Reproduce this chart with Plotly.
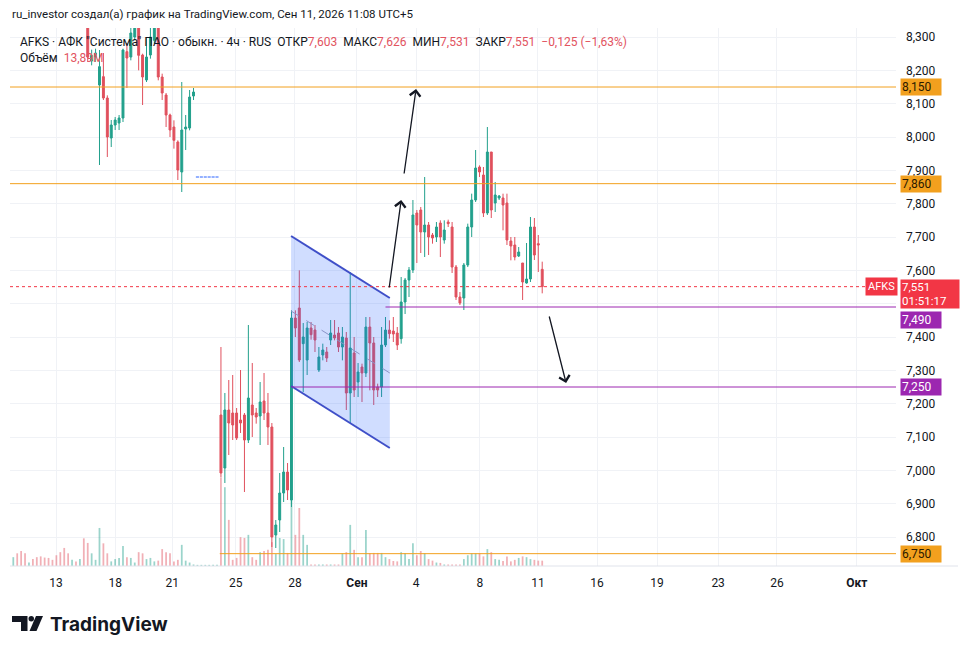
import plotly.graph_objects as go

# ---------------- data (4h bars, price in RUB) ----------------
bar_index = list(range(136))

opens = [
    8.700, 8.730, 8.705, 8.680, 8.660, 8.668, 8.650, 8.628, 8.610, 8.595,
    8.585, 8.565, 8.545, 8.510, 8.490, 8.480, 8.490, 8.478, 8.500, 8.380,
    8.228, 8.240, 8.156, 8.181, 8.117, 7.997, 8.036, 8.042, 8.057, 8.256,
    8.240, 8.300, 8.350, 8.246, 8.171, 8.246, 8.290, 8.340, 8.180, 8.126,
    8.066, 8.030, 7.985, 7.895, 8.024, 8.027, 8.123,
    None, None, None, None, None, None,
    7.166, 7.007, 7.181, 7.172, 7.172, 7.151, 7.166, 7.091, 7.196, 7.172,
    7.163, 7.208, 7.172, 7.130, 6.806, 6.851, 6.932, 6.995, 6.911, 7.457,
    7.487, 7.380, 7.331, 7.427, 7.421, 7.301, 7.346, 7.355, 7.391, 7.406,
    7.412, 7.370, 7.397, 7.232, 7.352, 7.265, 7.310, 7.292, 7.430, 7.382,
    7.250, 7.250, 7.376, 7.421, 7.418, 7.412, 7.395, 7.505, 7.571, 7.601,
    7.772, 7.781, 7.715, 7.736, 7.706, 7.700, 7.742, 7.691, 7.745, 7.730,
    7.610, 7.520, 7.517, 7.616, 7.730, 7.811, 7.910, 7.886, 7.772, 7.955,
    7.802, 7.817, 7.817, 7.802, 7.688, 7.676, 7.643, 7.622, 7.562, 7.574,
    7.730, 7.680, 7.603,
]
highs = [
    8.760, 8.745, 8.715, 8.690, 8.675, 8.672, 8.655, 8.632, 8.615, 8.600,
    8.590, 8.570, 8.550, 8.515, 8.495, 8.498, 8.494, 8.510, 8.505, 8.410,
    8.262, 8.265, 8.261, 8.252, 8.125, 8.051, 8.060, 8.066, 8.265, 8.282,
    8.330, 8.380, 8.380, 8.250, 8.300, 8.330, 8.400, 8.360, 8.190, 8.132,
    8.070, 8.050, 7.990, 8.165, 8.066, 8.141, 8.147,
    None, None, None, None, None, None,
    7.370, 7.232, 7.271, 7.286, 7.187, 7.301, 7.172, 7.436, 7.322, 7.187,
    7.265, 7.292, 7.232, 7.142, 6.851, 6.992, 7.070, 7.022, 7.480, 7.480,
    7.600, 7.442, 7.445, 7.445, 7.436, 7.370, 7.380, 7.370, 7.451, 7.451,
    7.430, 7.430, 7.415, 7.595, 7.400, 7.322, 7.320, 7.460, 7.460, 7.400,
    7.260, 7.430, 7.460, 7.450, 7.460, 7.430, 7.580, 7.577, 7.610, 7.811,
    7.781, 7.790, 7.880, 7.745, 7.712, 7.745, 7.750, 7.750, 7.752, 7.745,
    7.616, 7.535, 7.622, 7.740, 7.830, 7.961, 7.915, 7.910, 8.030, 7.955,
    7.865, 7.826, 7.830, 7.830, 7.700, 7.700, 7.670, 7.622, 7.682, 7.760,
    7.757, 7.706, 7.626,
]
lows = [
    8.690, 8.695, 8.670, 8.650, 8.655, 8.640, 8.620, 8.600, 8.585, 8.575,
    8.555, 8.530, 8.500, 8.480, 8.470, 8.475, 8.470, 8.470, 8.400, 8.225,
    8.215, 8.225, 7.916, 8.111, 7.940, 7.970, 8.021, 8.021, 8.045, 8.147,
    8.230, 8.290, 8.200, 8.096, 8.165, 8.235, 8.280, 8.170, 8.111, 8.030,
    8.000, 7.965, 7.871, 7.835, 7.961, 8.020, 8.111,
    None, None, None, None, None, None,
    6.980, 6.962, 7.046, 7.091, 7.091, 7.112, 6.935, 7.082, 7.100, 7.140,
    7.076, 7.151, 7.076, 6.770, 6.767, 6.815, 6.905, 6.911, 6.890, 7.400,
    7.325, 7.235, 7.286, 7.392, 7.355, 7.295, 7.330, 7.325, 7.376, 7.390,
    7.355, 7.330, 7.181, 7.142, 7.220, 7.220, 7.205, 7.280, 7.240, 7.196,
    7.220, 7.220, 7.370, 7.395, 7.385, 7.361, 7.380, 7.469, 7.520, 7.592,
    7.622, 7.652, 7.640, 7.646, 7.680, 7.685, 7.640, 7.680, 7.730, 7.592,
    7.511, 7.496, 7.481, 7.610, 7.700, 7.805, 7.880, 7.760, 7.766, 7.757,
    7.775, 7.811, 7.720, 7.676, 7.630, 7.630, 7.640, 7.511, 7.560, 7.565,
    7.631, 7.595, 7.531,
]
closes = [
    8.730, 8.705, 8.680, 8.660, 8.668, 8.650, 8.628, 8.610, 8.595, 8.585,
    8.565, 8.545, 8.510, 8.490, 8.480, 8.490, 8.478, 8.500, 8.420, 8.240,
    8.245, 8.252, 8.211, 8.117, 8.000, 8.036, 8.051, 8.057, 8.261, 8.237,
    8.312, 8.345, 8.245, 8.180, 8.240, 8.300, 8.360, 8.180, 8.132, 8.066,
    8.021, 7.990, 7.901, 8.021, 8.030, 8.120, 8.135,
    None, None, None, None, None, None,
    6.992, 7.181, 7.142, 7.136, 7.097, 7.142, 7.091, 7.217, 7.166, 7.160,
    7.205, 7.172, 7.130, 6.800, 6.836, 6.932, 6.995, 6.941, 7.457, 7.427,
    7.331, 7.400, 7.427, 7.407, 7.391, 7.340, 7.361, 7.337, 7.412, 7.397,
    7.370, 7.400, 7.232, 7.367, 7.241, 7.295, 7.292, 7.430, 7.382, 7.241,
    7.241, 7.376, 7.421, 7.410, 7.409, 7.376, 7.505, 7.571, 7.601, 7.766,
    7.736, 7.715, 7.736, 7.700, 7.697, 7.730, 7.700, 7.721, 7.740, 7.610,
    7.520, 7.502, 7.616, 7.730, 7.811, 7.907, 7.895, 7.772, 7.955, 7.781,
    7.826, 7.823, 7.796, 7.691, 7.673, 7.640, 7.655, 7.565, 7.574, 7.730,
    7.646, 7.676, 7.551,
]
volumes_m = [
    23, 33, 39, 33, 9, 18, 23, 25, 22, 21,
    16, 28, 36, 47, 33, 16, 12, 18, 72, 60,
    33, 16, 99, 59, 33, 12, 18, 21, 52, 23,
    21, 9, 36, 33, 18, 21, 12, 14, 44, 36,
    33, 12, 16, 55, 14, 9, 4,
    3, 3, 3, 3, 3, 3,
    231, 205, 120, 16, 21, 75, 73, 81, 23, 16,
    36, 39, 42, 62, 31, 73, 70, 34, 172, 81,
    151, 81, 55, 4, 4, 4, 4, 4, 4, 4,
    4, 33, 36, 107, 42, 23, 23, 94, 33, 34,
    34, 34, 23, 18, 13, 12, 36, 33, 18, 59,
    28, 39, 33, 18, 14, 9, 8, 4, 4, 4,
    4, 4, 18, 28, 33, 33, 33, 25, 44, 36,
    18, 16, 13, 25, 12, 16, 21, 25, 23, 18,
    16, 14, 13.89,
]

# flat no-trade bars (drawn as dashes)
doji_index = [47, 48, 49, 50, 51, 52]
doji_price = [7.880, 7.880, 7.880, 7.880, 7.880, 7.880]

# axis ticks
date_tick_pos = [10.9, 26.0, 40.6, 56.8, 71.9, 87.7, 102.8, 119.1, 133.9, 149.0, 164.3, 179.9, 194.9, 215.3]
date_tick_text = ["13", "18", "21", "25", "28", "<b>Сен</b>", "4", "8", "11", "16", "19", "23", "26", "<b>Окт</b>"]
price_ticks = [6.8, 6.9, 7.0, 7.1, 7.2, 7.3, 7.4, 7.5, 7.6, 7.7, 7.8, 7.9, 8.0, 8.1, 8.2, 8.3]
hidden_price_ticks = [7.5]  # covered by the last-price label in the original

# drawings
orange_levels = [8.150, 7.860, 6.750]
orange_starts = [-0.84, -0.84, 52.7]
purple_levels = [7.490, 7.250]
purple_starts = [95.0, 71.0]
flag_x = [70.9, 96.1]
flag_top = [7.703, 7.517]
flag_mid = [7.478, 7.292]
flag_bottom = [7.253, 7.067]
arrows = [  # (tail_x, tail_y, head_x, head_y)
    (95.9, 7.544, 99.0, 7.811),
    (99.7, 7.886, 102.8, 8.144),
    (136.7, 7.466, 141.1, 7.262),
]

X_RANGE = [-0.84, 225.3]
Y_RANGE = [6.713, 8.327]
VOL_RANGE = [0, 1400]

UP = "#22a08c"
DOWN = "#e0505d"
UP_VOL = "rgba(34,160,140,0.45)"
DOWN_VOL = "rgba(224,80,93,0.45)"
TXT = "#131722"
ORANGE = "#f2a01e"
PURPLE = "#9c27b0"
RED = "#f23645"
FONT = "Roboto"


def fmt(v, nd=3):
    return f"{v:.{nd}f}".replace(".", ",")


# paper helpers (plot area: x 10..896, y 28..566 px)
def pxx(x):
    return (x - 10) / 886


def pxy(y):
    return (566 - y) / 538


vol_colors = []
for o, c in zip(opens, closes):
    if o is None or c >= o:
        vol_colors.append(UP_VOL)
    else:
        vol_colors.append(DOWN_VOL)

fig = go.Figure()

fig.add_trace(go.Bar(
    x=bar_index, y=volumes_m, marker=dict(color=vol_colors, line=dict(width=0)),
    width=0.45, yaxis="y", showlegend=False, hoverinfo="skip",
))

fig.add_trace(go.Candlestick(
    x=bar_index, open=opens, high=highs, low=lows, close=closes,
    increasing=dict(line=dict(color=UP, width=1), fillcolor=UP),
    decreasing=dict(line=dict(color=DOWN, width=1), fillcolor=DOWN),
    whiskerwidth=0, yaxis="y2", showlegend=False, hoverinfo="skip",
))

fig.add_trace(go.Scatter(
    x=doji_index, y=doji_price, mode="markers", yaxis="y2",
    marker=dict(symbol="line-ew", size=2.2, line=dict(color="#2962ff", width=1)),
    showlegend=False, hoverinfo="skip",
))

# flag pattern
fig.add_trace(go.Scatter(
    x=[flag_x[0], flag_x[1], flag_x[1], flag_x[0], flag_x[0]],
    y=[flag_top[0], flag_top[1], flag_bottom[1], flag_bottom[0], flag_top[0]],
    fill="toself", fillcolor="rgba(41,98,255,0.22)", mode="lines",
    line=dict(width=0), yaxis="y2", showlegend=False, hoverinfo="skip",
))
for ys in (flag_top, flag_bottom):
    fig.add_trace(go.Scatter(
        x=flag_x, y=ys, mode="lines", line=dict(color="#3f4fc8", width=2),
        yaxis="y2", showlegend=False, hoverinfo="skip",
    ))
fig.add_trace(go.Scatter(
    x=flag_x, y=flag_mid, mode="lines", line=dict(color="#8a93c8", width=1, dash="dash"),
    yaxis="y2", showlegend=False, hoverinfo="skip",
))

shapes = []
for lv, st in zip(orange_levels, orange_starts):
    shapes.append(dict(type="line", xref="x", yref="y2", x0=st, x1=X_RANGE[1], y0=lv, y1=lv,
                       line=dict(color=ORANGE, width=1)))
for lv, st in zip(purple_levels, purple_starts):
    shapes.append(dict(type="line", xref="x", yref="y2", x0=st, x1=X_RANGE[1], y0=lv, y1=lv,
                       line=dict(color=PURPLE, width=1)))
last_close = closes[-1]
shapes.append(dict(type="line", xref="paper", yref="y2", x0=0, x1=pxx(866), y0=last_close, y1=last_close,
                   line=dict(color=RED, width=1, dash="dot")))
# bottom axis line
shapes.append(dict(type="line", xref="paper", yref="paper", x0=0, x1=pxx(958), y0=0, y1=0,
                   line=dict(color="#e0e3eb", width=1)))
# TradingView logo mark
shapes.append(dict(type="path", xref="paper", yref="paper",
                   path=f"M {pxx(12)},{pxy(616)} L {pxx(27.5)},{pxy(616)} L {pxx(27.5)},{pxy(631)} "
                        f"L {pxx(21)},{pxy(631)} L {pxx(21)},{pxy(622)} L {pxx(12)},{pxy(622)} Z",
                   fillcolor="#131722", line=dict(width=0)))
shapes.append(dict(type="circle", xref="paper", yref="paper",
                   x0=pxx(28.5), x1=pxx(34), y0=pxy(621.5), y1=pxy(616),
                   fillcolor="#131722", line=dict(width=0)))
shapes.append(dict(type="path", xref="paper", yref="paper",
                   path=f"M {pxx(36)},{pxy(616)} L {pxx(43)},{pxy(616)} L {pxx(36.5)},{pxy(631)} "
                        f"L {pxx(29.5)},{pxy(631)} Z",
                   fillcolor="#131722", line=dict(width=0)))

ann = []
ann.append(dict(xref="paper", yref="paper", x=pxx(10), y=pxy(14), xanchor="left", yanchor="middle",
                text="ru_investor создал(а) график на TradingView.com, Сен 11, 2026 11:08 UTC+5",
                showarrow=False, font=dict(size=11.5, color=TXT, family=FONT)))

vc = "#e2545f"
prev_close = closes[-2]
chg = last_close - prev_close
line2 = ("AFKS · АФК \"Система\" ПАО · обыкн. · 4ч · RUS\u2002"
         f"ОТКР<span style='color:{vc}'>{fmt(opens[-1])}</span>\u2002"
         f"МАКС<span style='color:{vc}'>{fmt(highs[-1])}</span>\u2002"
         f"МИН<span style='color:{vc}'>{fmt(lows[-1])}</span>\u2002"
         f"ЗАКР<span style='color:{vc}'>{fmt(last_close)}</span>\u2002"
         f"<span style='color:{vc}'>{fmt(chg).replace('-', '−')} ({fmt(chg / prev_close * 100, 2).replace('-', '−')}%)</span>")
ann.append(dict(xref="paper", yref="paper", x=pxx(18), y=pxy(42), xanchor="left", yanchor="middle",
                text=line2, showarrow=False, font=dict(size=12, color=TXT, family=FONT)))
ann.append(dict(xref="paper", yref="paper", x=pxx(18), y=pxy(58), xanchor="left", yanchor="middle",
                text=f"Объём\u2002<span style='color:{vc}'>{fmt(volumes_m[-1], 2)}M</span>",
                showarrow=False, font=dict(size=12, color=TXT, family=FONT)))

for lv in orange_levels:
    ann.append(dict(xref="paper", yref="y2", x=1, y=lv, xanchor="left", yanchor="middle", xshift=4,
                    text=fmt(lv), showarrow=False, bgcolor=ORANGE, width=38, height=14, borderpad=1,
                    align="left", font=dict(size=12, color="#2a1a00", family=FONT)))
for lv, ys in zip(purple_levels, [-13, 0]):
    ann.append(dict(xref="paper", yref="y2", x=1, y=lv, xanchor="left", yanchor="middle", xshift=4, yshift=ys,
                    text=fmt(lv), showarrow=False, bgcolor=PURPLE, width=38, height=14, borderpad=1,
                    align="left", font=dict(size=12, color="white", family=FONT)))
ann.append(dict(xref="paper", yref="y2", x=1, y=last_close, xanchor="left", yanchor="top", xshift=4, yshift=8,
                text=f"{fmt(last_close)}<br>01:51:17", showarrow=False, bgcolor=RED, width=56, height=26,
                borderpad=1, align="left", font=dict(size=11.5, color="white", family=FONT)))
ann.append(dict(xref="paper", yref="y2", x=1, y=last_close, xanchor="right", yanchor="middle", xshift=2,
                text="AFKS", showarrow=False, bgcolor=RED, borderpad=2,
                font=dict(size=11, color="white", family=FONT)))

for tx, ty, hx, hy in arrows:
    ann.append(dict(xref="x", yref="y2", axref="x", ayref="y2", x=hx, y=hy, ax=tx, ay=ty,
                    text="", showarrow=True, arrowhead=4, arrowsize=1.6, arrowwidth=1.3,
                    arrowcolor=TXT))

ann.append(dict(xref="paper", yref="paper", x=pxx(48), y=pxy(624), xanchor="left", yanchor="middle",
                text="<b>TradingView</b>", showarrow=False,
                font=dict(size=19, color="#131722", family="Inter")))

price_tick_text = ["" if v in hidden_price_ticks else fmt(v) for v in price_ticks]

fig.update_layout(
    width=976, height=654,
    margin=dict(l=10, r=80, t=28, b=88),
    paper_bgcolor="white", plot_bgcolor="white",
    showlegend=False,
    font=dict(family=FONT, size=12, color=TXT),
    xaxis=dict(range=X_RANGE, tickmode="array", tickvals=date_tick_pos, ticktext=date_tick_text,
               showgrid=True, gridcolor="#f0f2f6", gridwidth=1, zeroline=False, showline=False,
               ticks="", ticklabelstandoff=8, tickfont=dict(size=12, color=TXT),
               rangeslider=dict(visible=False), fixedrange=True),
    yaxis=dict(range=VOL_RANGE, visible=False, showgrid=False, fixedrange=True),
    yaxis2=dict(range=Y_RANGE, overlaying="y", side="right", tickmode="array", tickvals=price_ticks,
                ticktext=price_tick_text, showgrid=True, gridcolor="#f0f2f6",
                zeroline=False, showline=False, ticks="", ticklabelstandoff=9,
                tickfont=dict(size=12, color=TXT), fixedrange=True),
    shapes=shapes,
    annotations=ann,
)

fig.write_html("out.html", config={"displayModeBar": False},
               post_script="document.body.style.margin='0px';document.body.style.overflow='hidden';")
